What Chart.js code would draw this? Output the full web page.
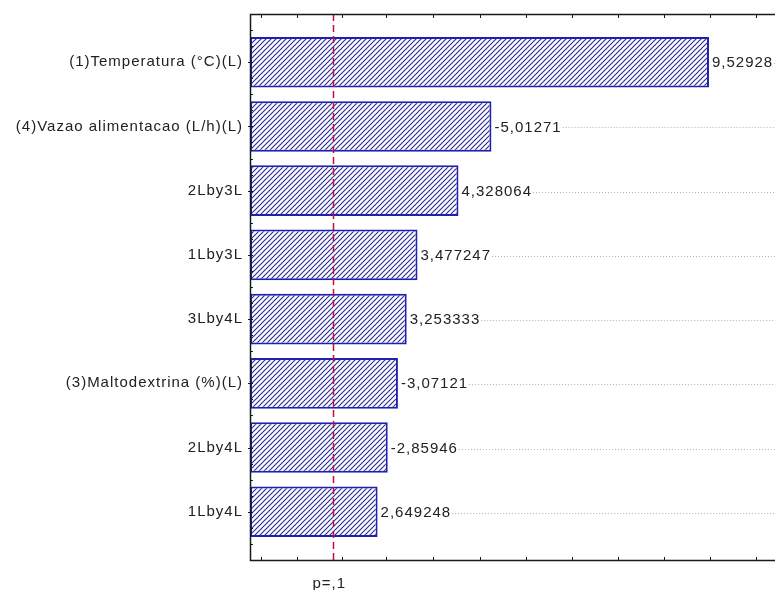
<!DOCTYPE html>
<html>
<head>
<meta charset="utf-8">
<script src="https://cdn.jsdelivr.net/npm/chart.js@4.4.1/dist/chart.umd.min.js"></script>
<style>
  html, body { margin: 0; padding: 0; background: #ffffff; }
  #wrap { width: 775px; height: 590px; }
</style>
</head>
<body>
<div id="wrap"><canvas id="pareto" width="775" height="590"></canvas></div>
<script>
// Pareto chart of standardized effects
const categories = [
  '(1)Temperatura (°C)(L)',
  '(4)Vazao alimentacao (L/h)(L)',
  '2Lby3L',
  '1Lby3L',
  '3Lby4L',
  '(3)Maltodextrina (%)(L)',
  '2Lby4L',
  '1Lby4L'
];
const effects = [9.52928, -5.01271, 4.328064, 3.477247, 3.253333, -3.07121, -2.85946, 2.649248];
const pValue = 1.729;          // critical t for p = .1
const pLabel = 'p=,1';
const xTickMarks = [0.22, 0.97, 1.9, 2.83, 3.8, 4.77, 5.73, 6.68, 7.63, 8.59, 9.56, 10.5];

const FONT = '"Liberation Sans", Arial, sans-serif';
const FONT_SIZE = 15;
const SPACING = '1px';
const TEXT = '#222222';

const canvas = document.getElementById('pareto');
const ctx = canvas.getContext('2d');

// diagonal hatch fill
function makeHatch() {
  const s = 5;
  const t = document.createElement('canvas');
  t.width = s; t.height = s;
  const c = t.getContext('2d');
  c.fillStyle = '#ffffff';
  c.fillRect(0, 0, s, s);
  c.strokeStyle = '#2e2e98';
  c.lineWidth = 1.2;
  c.beginPath();
  c.moveTo(0, s); c.lineTo(s, 0);
  c.moveTo(-1, 1); c.lineTo(1, -1);
  c.moveTo(s - 1, s + 1); c.lineTo(s + 1, s - 1);
  c.stroke();
  return ctx.createPattern(t, 'repeat');
}

const decorations = {
  id: 'decorations',
  beforeDraw(chart) {
    chart.ctx.letterSpacing = SPACING;
  },
  afterDatasetsDraw(chart) {
    const c = chart.ctx;
    const a = chart.chartArea;
    const xs = chart.scales.x;
    const ys = chart.scales.y;
    c.save();

    // value labels with dotted leaders
    const meta = chart.getDatasetMeta(0);
    c.font = FONT_SIZE + 'px ' + FONT;
    c.fillStyle = TEXT;
    c.textAlign = 'left';
    c.textBaseline = 'middle';
    meta.data.forEach((el, i) => {
      const txt = String(effects[i]).replace('.', ',');
      const tx = el.x + 3;
      c.fillText(txt, tx, el.y + 1);
      const w = c.measureText(txt).width;
      const start = tx + w + 1;
      if (start < a.right) {
        c.save();
        c.strokeStyle = '#b0b0b0';
        c.lineWidth = 1;
        c.setLineDash([1, 2]);
        c.beginPath();
        c.moveTo(start, Math.round(el.y) + 1.5);
        c.lineTo(a.right, Math.round(el.y) + 1.5);
        c.stroke();
        c.restore();
      }
    });

    // significance line
    const px = Math.round(xs.getPixelForValue(pValue)) + 0.5;
    c.strokeStyle = '#c40c40';
    c.lineWidth = 1.5;
    c.setLineDash([7, 4]);
    c.beginPath();
    c.moveTo(px, a.top);
    c.lineTo(px, a.bottom);
    c.stroke();
    c.setLineDash([]);

    // frame: top, left, bottom
    c.strokeStyle = '#1a1a1a';
    c.lineWidth = 1.5;
    c.beginPath();
    c.moveTo(a.right, a.top + 0.5);
    c.lineTo(a.left + 0.5, a.top + 0.5);
    c.lineTo(a.left + 0.5, a.bottom + 0.5);
    c.lineTo(a.right, a.bottom + 0.5);
    c.stroke();

    // inward tick marks
    c.lineWidth = 1;
    c.beginPath();
    xTickMarks.forEach(v => {
      const x = Math.round(xs.getPixelForValue(v)) + 0.5;
      c.moveTo(x, a.bottom); c.lineTo(x, a.bottom - 3);
      c.moveTo(x, a.top + 1); c.lineTo(x, a.top + 4);
    });
    for (let v = -0.5; v <= 7.5; v += 0.25) {
      const y = Math.round(ys.getPixelForValue(v)) + 0.5;
      c.moveTo(a.left, y); c.lineTo(a.left + 3, y);
    }
    categories.forEach((_, i) => {
      const y = Math.round(ys.getPixelForValue(i)) + 0.5;
      c.moveTo(a.left - 2, y); c.lineTo(a.left + 3, y);
    });
    c.stroke();
    c.restore();
  }
};

new Chart(canvas, {
  type: 'bar',
  data: {
    datasets: [{
      data: effects.map((v, i) => ({ x: Math.abs(v), y: i })),
      backgroundColor: makeHatch(),
      borderColor: '#2020b0',
      borderWidth: 2,
      borderSkipped: false,
      categoryPercentage: 1,
      barPercentage: 0.787
    }]
  },
  options: {
    indexAxis: 'y',
    responsive: false,
    animation: false,
    events: [],
    layout: { padding: { top: 14, right: 0, bottom: 0, left: 0 } },
    plugins: { legend: { display: false }, tooltip: { enabled: false } },
    scales: {
      y: {
        type: 'linear',
        min: -0.75,
        max: 7.75,
        reverse: true,
        offset: false,
        grid: { display: false, offset: false, drawTicks: false },
        border: { display: false },
        afterBuildTicks: s => { s.ticks = categories.map((_, i) => ({ value: i })); },
        afterFit: s => { s.width = 250; s.paddingTop = 0; s.paddingBottom = 0; },
        ticks: {
          autoSkip: false,
          padding: 7,
          color: TEXT,
          font: { family: FONT, size: FONT_SIZE },
          callback: v => categories[v]
        }
      },
      x: {
        type: 'linear',
        min: 0,
        max: 10.9,
        offset: false,
        grid: { display: false, drawTicks: false },
        border: { display: false },
        afterBuildTicks: s => { s.ticks = [{ value: pValue }]; },
        afterFit: s => { s.height = 30; s.paddingLeft = 0; s.paddingRight = 0; },
        ticks: {
          padding: 15,
          labelOffset: -4,
          maxRotation: 0,
          color: TEXT,
          font: { family: FONT, size: FONT_SIZE },
          callback: () => pLabel
        }
      }
    }
  },
  plugins: [decorations]
});
</script>
</body>
</html>
